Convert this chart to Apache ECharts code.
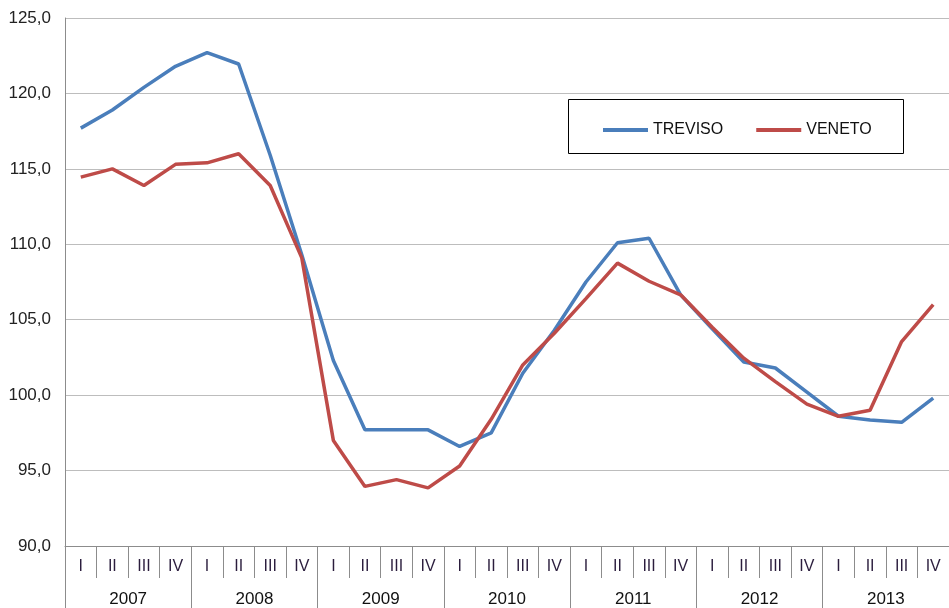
<!DOCTYPE html>
<html>
<head>
<meta charset="utf-8">
<script src="https://cdn.jsdelivr.net/npm/echarts@6/dist/echarts.min.js"></script>
<style>
html,body{margin:0;padding:0;background:#fff;}
#chart{width:949px;height:608px;}
</style>
</head>
<body>
<div id="chart"></div>
<script>
var years = ['2007','2008','2009','2010','2011','2012','2013'];
var quarters = ['I','II','III','IV'];
var treviso = [117.7,118.9,120.4,121.8, 122.7,121.95,115.9,109.3, 102.3,97.7,97.7,97.7, 96.6,97.5,101.45,104.3, 107.5,110.1,110.4,106.65, 104.4,102.2,101.8,100.2, 98.6,98.35,98.2,99.8];
var veneto  = [114.45,115.0,113.9,115.3, 115.4,116.0,113.9,109.1, 97.0,93.95,94.4,93.85, 95.3,98.4,102.0,104.1, 106.4,108.75,107.55,106.65, 104.5,102.45,100.9,99.4, 98.6,99.0,103.55,106.0];
var seriesNames = ['TREVISO','VENETO'];
var yTicks = {min:90, max:125, step:5};

var qCats = [];
years.forEach(function(y){ quarters.forEach(function(q){ qCats.push(q); }); });

var chart = echarts.init(document.getElementById('chart'), null, {renderer:'canvas'});
var font = 'Liberation Sans, Arial, sans-serif';
var gridCol = '#BDBDBD';
var axisCol = '#8C8C8C';
chart.setOption({
  animation:false,
  backgroundColor:'#fff',
  grid:{left:65, top:18, width:887, height:528, containLabel:false},
  graphic:[{type:'rect', shape:{x:568.5, y:99.5, width:335, height:54}, style:{fill:'none', stroke:'#000', lineWidth:1}, z:10}],
  legend:{
    left:598, top:117, itemWidth:45, itemHeight:4, itemGap:33, icon:'rect',
    textStyle:{fontFamily:font, fontSize:16, color:'#111'},
    data:seriesNames
  },
  xAxis:[
    {type:'category', data:qCats, boundaryGap:true, position:'bottom',
     axisLine:{show:true, lineStyle:{color:axisCol, width:1}},
     axisTick:{show:true, interval:0, length:32, lineStyle:{color:axisCol}},
     axisLabel:{interval:0, margin:13, fontFamily:font, fontSize:16, color:'#2b1d3d'},
     splitLine:{show:false}},
    {type:'category', data:years, boundaryGap:true, position:'bottom', gridIndex:0,
     axisLine:{show:false},
     axisTick:{show:true, interval:0, length:62, lineStyle:{color:axisCol}},
     axisLabel:{interval:0, margin:45, fontFamily:font, fontSize:17, color:'#111'},
     splitLine:{show:false}}
  ],
  yAxis:{type:'value', min:yTicks.min, max:yTicks.max, interval:yTicks.step,
    axisLine:{show:true, lineStyle:{color:axisCol}},
    axisTick:{show:false},
    splitLine:{show:true, lineStyle:{color:gridCol, width:1}},
    axisLabel:{margin:14, fontFamily:font, fontSize:17, color:'#222',
      formatter:function(v){ return v.toFixed(1).replace('.', ','); }}
  },
  series:[
    {name:seriesNames[0], type:'line', data:treviso, xAxisIndex:0, showSymbol:false, symbol:'none',
     lineStyle:{color:'#4A7EBB', width:3.5}, itemStyle:{color:'#4A7EBB'}},
    {name:seriesNames[1], type:'line', data:veneto, xAxisIndex:0, showSymbol:false, symbol:'none',
     lineStyle:{color:'#BE4B48', width:3.5}, itemStyle:{color:'#BE4B48'}}
  ]
});
</script>
</body>
</html>
